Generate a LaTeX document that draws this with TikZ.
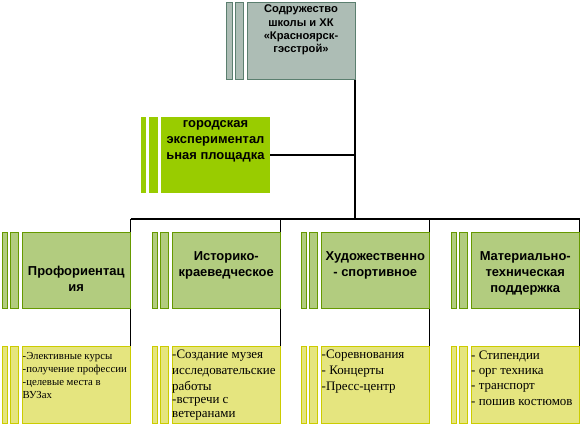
\documentclass[tikz,border=0pt]{standalone}
\usepackage{fontspec}
\setmainfont{Liberation Serif}
\newfontfamily\hdr{Liberation Sans}
\usetikzlibrary{backgrounds}
\definecolor{topfl}{HTML}{ADBDB5}
\definecolor{topbd}{HTML}{5B7F6F}
\definecolor{grn}{HTML}{99CC00}
\definecolor{midfl}{HTML}{B2CC7F}
\definecolor{midbd}{HTML}{669900}
\definecolor{lowfl}{HTML}{E5E57F}
\definecolor{lowbd}{HTML}{CCCC00}
\begin{document}
\begin{tikzpicture}[x=1bp,y=-1bp,
  box/.style={anchor=north west,inner sep=0pt,outer sep=0pt},
  topst/.style={draw=topbd,fill=topfl,line width=1bp},
  grnst/.style={fill=grn},
  midst/.style={draw=midbd,fill=midfl,line width=1bp},
  lowst/.style={draw=lowbd,fill=lowfl,line width=1bp},
  conn/.style={draw=black,line width=1.5bp},
  hdsmall/.style={anchor=north,inner sep=0pt,align=center,font=\hdr\bfseries\fontsize{11.2}{13.3}\selectfont},
  hd/.style={anchor=north,inner sep=0pt,align=center,font=\hdr\bfseries\fontsize{13}{16}\selectfont},
  bd/.style={anchor=north west,inner sep=0pt,align=left,font=\fontsize{13}{16}\selectfont},
  bdsmall/.style={anchor=north west,inner sep=0pt,align=left,font=\fontsize{10.8}{13}\selectfont},
]
\useasboundingbox (0,0) rectangle (582,426);
% top box
\path[topst] (226,2) rectangle (232,79);
\path[topst] (235,2) rectangle (243,79);
\node[box,topst,minimum width=108bp,minimum height=77bp] (tb) at (247,2) {};
\node[hdsmall] (tbt) at (301,3.4) {\strut Содружество\\школы и ХК\\«Красноярск-\\гэсстрой»};
% green box
\path[grnst] (141,117) rectangle (146,193);
\path[grnst] (149,117) rectangle (158,193);
\node[box,grnst,minimum width=109bp,minimum height=76bp] (gb) at (161,117) {};
\node[hd] (gbt) at (215.5,116.1) {\strut городская\\экспериментал\\ьная площадка};
% row 2 and row 3 boxes
\foreach \i/\x in {1/0,2/150,3/299,4/449}{
  \path[midst] (\x+2,232) rectangle (\x+7,308);
  \path[midst] (\x+10,232) rectangle (\x+18,308);
  \node[box,midst,minimum width=108.5bp,minimum height=76bp] (p\i) at (\x+22,232) {};
  \path[lowst] (\x+2,346) rectangle (\x+7,423);
  \path[lowst] (\x+10,346) rectangle (\x+18,423);
  \node[box,lowst,minimum width=108.5bp,minimum height=77bp] (q\i) at (\x+22,346) {};
}
\node[hd] (p1t) at (76.25,264.5) {\strut Профориентац\\ия};
\node[hd] (p2t) at (226.25,248.8) {\strut Историко-\\краеведческое};
\node[hd] (p3t) at (375.25,248.8) {\strut Художественно\\- спортивное};
\node[hd] (p4t) at (525.25,248.8) {\strut Материально-\\техническая\\поддержка};
% row 3 texts
\node[bdsmall] (q1t) at (22.5,349.9) {\strut -Элективные курсы\\-получение профессии\\-целевые места в\\ВУЗах};
\node[bd] (q2t) at (172,347.1) {\strut -Создание музея\\исследовательские\\работы\\[-2.5bp]-встречи с\\[-2.5bp]ветеранами};
\node[bd] (q3t) at (321.5,347.1) {\strut -Соревнования\\- Концерты\\-Пресс-центр};
\node[bd,font=\fontsize{13}{15.5}\selectfont] (q4t) at (471,348) {\strut - Стипендии\\- орг техника\\- транспорт\\- пошив костюмов};
% connectors
\coordinate (bus) at (0,219);
\begin{pgfonlayer}{background}
\draw[conn] (tb.south east) -- (tb.south east |- bus) coordinate (j);
\draw[conn] (gb.east) -- (gb.east -| j);
\draw[conn] (p1.north east |- bus) -- (p4.north east |- bus);
\foreach \i in {1,2,3,4}{
  \draw[conn] (p\i.north east |- bus) -- (q\i.north east);
}
\end{pgfonlayer}
\end{tikzpicture}
\end{document}
